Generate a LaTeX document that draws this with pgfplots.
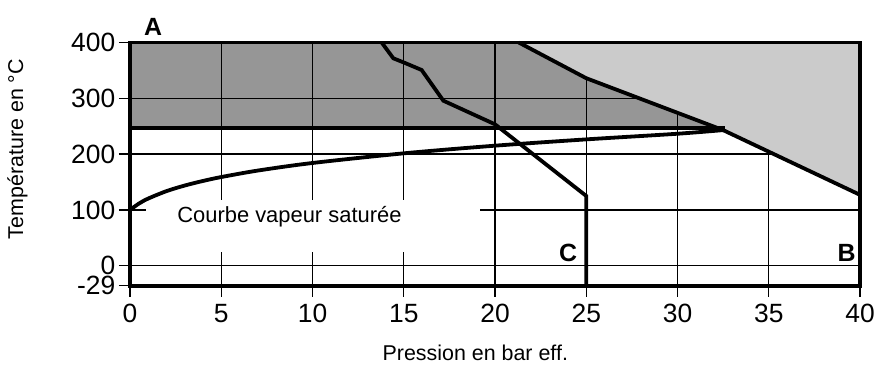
\documentclass[border=0pt]{standalone}
\usepackage{fontspec}
\setmainfont{Liberation Sans}
\usepackage{pgfplots}
\pgfplotsset{compat=1.18}
\definecolor{darkg}{RGB}{150,150,150}
\definecolor{lightg}{RGB}{203,203,203}
\begin{document}
\begin{tikzpicture}[x=1bp,y=1bp]
\useasboundingbox (0,0) rectangle (877,365);
\begin{axis}[
  at={(130bp,79.3bp)}, anchor=south west,
  scale only axis, width=730bp, height=243.2bp,
  xmin=0, xmax=40, ymin=-35.8, ymax=400,
  axis on top, clip=false,
  axis line style={line width=3.6bp, black},
  xtick={0,5,...,40},
  ytick={-35.8,0,100,200,300,400},
  yticklabels={-29,0,100,200,300,400},
  tick pos=left, tick align=outside,
  major tick length=11bp,
  tick style={line width=1.3bp, black},
  /pgf/number format/assume math mode=true,
  ticklabel style={font=\fontsize{26.5}{26}\selectfont},
  xticklabel style={inner sep=2bp, yshift=-5bp},
  yticklabel style={inner sep=0pt, xshift=-3.5bp},
  xlabel={Pression en bar eff.},
  ylabel={Température en °C},
  label style={font=\fontsize{21.5}{22}\selectfont},
  xlabel style={at={(axis description cs:0.473,-0.278)}, anchor=center},
  ylabel style={at={(axis description cs:-0.154,0.562)}, anchor=center, rotate=0},
]
% dark grey zone
\addplot[draw=none, fill=darkg] coordinates {(0,247) (40,247) (40,400) (0,400)} \closedcycle;
% grid lines
\pgfplotsinvokeforeach{5,10,15}{
  \draw[line width=1.4bp] (axis cs:#1,-35.8) -- (axis cs:#1,25);
  \draw[line width=1.4bp] (axis cs:#1,118) -- (axis cs:#1,400);
}
\pgfplotsinvokeforeach{20,25,30,35}{
  \draw[line width=1.4bp] (axis cs:#1,-35.8) -- (axis cs:#1,400);
}
\draw[line width=1.4bp] (axis cs:0,0) -- (axis cs:40,0);
\draw[line width=1.4bp] (axis cs:0,100) -- (axis cs:0.9,100);
\draw[line width=1.4bp] (axis cs:19.2,100) -- (axis cs:40,100);
\draw[line width=1.4bp] (axis cs:0,200) -- (axis cs:40,200);
\draw[line width=1.4bp] (axis cs:0,300) -- (axis cs:40,300);
% light grey zone
\addplot[draw=none, fill=lightg] coordinates {(21.3,400) (25,336) (32.5,243) (40,127) (40,400)} -- cycle;
% boundaries
\addplot[line width=3.8bp, black] coordinates {(0,247) (32.6,247)};
\addplot[line width=3.8bp, black] coordinates {(21.3,400) (25,336) (32.5,243) (40,127)};
% saturation curve
\addplot[line width=3.8bp, black, smooth] coordinates {
(0,100) (0.5,111.6) (1,120.4) (2,133.7) (3,143.7) (4,151.9) (5,158.9) (7,170.5)
(10,184.1) (15,201.4) (20,215.1) (25,226.4) (30,236.5) (32.5,243)};
% line C
\addplot[line width=3.8bp, black] coordinates {
(13.79,400) (14.43,371.6) (14.98,364.5) (15.98,350.7) (17.17,295.7) (20.0,253.4) (25,125) (25,-35.8)};
\node[anchor=west, font=\fontsize{22}{22}\selectfont] at (axis cs:2.4,87) {Courbe vapeur saturée};
\node[font=\fontsize{25}{25}\bfseries] at (axis cs:1.26,428) {A};
\node[font=\fontsize{25}{25}\bfseries] at (axis cs:24.0,22.8) {C};
\node[font=\fontsize{25}{25}\bfseries] at (axis cs:39.27,22.8) {B};
\end{axis}
\end{tikzpicture}
\end{document}
